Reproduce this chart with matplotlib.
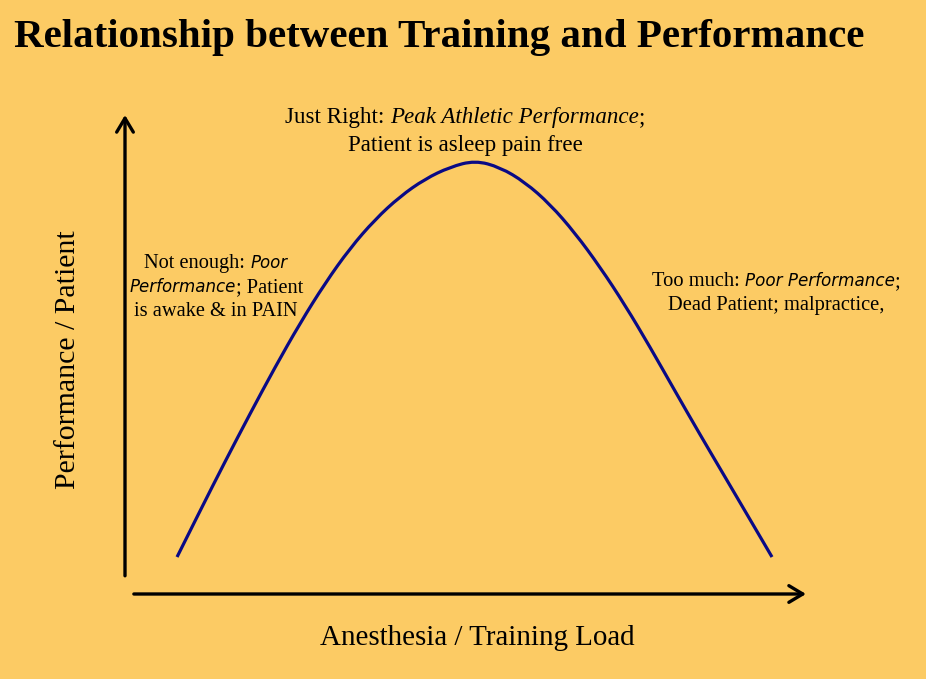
import matplotlib
matplotlib.use("Agg")
import matplotlib.pyplot as plt
import matplotlib.transforms as mtransforms
from matplotlib.path import Path
from matplotlib.patches import PathPatch

# ---- data ----
load = [0.764, 1.101, 1.468, 1.836, 2.203, 2.570, 2.937, 3.304, 3.671, 4.038,
        4.405, 4.772, 5.140, 5.507, 5.874, 6.241, 6.608, 6.975, 7.342, 7.709,
        8.076, 8.443, 8.811, 9.178, 9.501]
performance = [0.772, 1.733, 2.761, 3.763, 4.734, 5.652, 6.487, 7.218, 7.818, 8.299,
               8.664, 8.914, 9.050, 8.909, 8.596, 8.137, 7.537, 6.827, 6.033, 5.157,
               4.238, 3.330, 2.443, 1.555, 0.772]

title = "Relationship between Training and Performance"
xlabel = "Anesthesia / Training Load"
ylabel = "Performance / Patient"

top_note = [[("Just Right: ", "n"), ("Peak Athletic Performance", "i"), (";", "n")],
            [("Patient is asleep pain free", "n")]]
left_note = [[("Not enough: ", "n"), ("Poor", "s")],
             [("Performance", "s"), ("; Patient", "n")],
             [("is awake & in PAIN", "n")]]
right_note = [[("Too much: ", "n"), ("Poor Performance", "s"), (";", "n")],
              [("Dead Patient; malpractice,", "n")]]

W, H = 926, 679
BG = "#FCCB64"
CURVE = "#0A0A85"
SERIF = "Liberation Serif"

fig = plt.figure(figsize=(W / 100, H / 100), dpi=100, facecolor=BG)
PX = mtransforms.Affine2D().scale(1.0 / W, -1.0 / H).translate(0, 1) + fig.transFigure

# plot area: load 0..10 -> px 125..806 ; performance 0..10 -> px 594..115
ax = fig.add_axes([125 / W, (H - 594) / H, 681 / W, 479 / H])
ax.set_xlim(0, 10)
ax.set_ylim(0, 10)
ax.axis("off")
ax.patch.set_alpha(0)

# smooth curve through the read points (quadratic Bezier rendering)
pts = list(zip(load, performance))
verts = [pts[0]]
codes = [Path.MOVETO]
for i in range(1, len(pts) - 1):
    mid = ((pts[i][0] + pts[i + 1][0]) / 2, (pts[i][1] + pts[i + 1][1]) / 2)
    verts += [pts[i], mid]
    codes += [Path.CURVE3, Path.CURVE3]
verts.append(pts[-1])
codes.append(Path.LINETO)
ax.add_patch(PathPatch(Path(verts, codes), fill=False, edgecolor=CURVE, lw=2.3,
                       capstyle="butt", joinstyle="round", clip_on=False,
                       transform=ax.transData))

arrow_kw = dict(arrowstyle="->,head_length=0.5,head_width=0.3", color="black",
                lw=2.4, mutation_scale=20, shrinkA=0, shrinkB=0)
ax.annotate("", xy=(10.0, 0.0), xytext=(0.13, 0.0),
            arrowprops=arrow_kw, annotation_clip=False)
ax.annotate("", xy=(0.0, 10.0), xytext=(0.0, 0.38),
            arrowprops=arrow_kw, annotation_clip=False)

# ---- texts ----
fig.text(14, 47, title, transform=PX, fontsize=29.5, fontweight="bold",
         family=SERIF, ha="left", va="baseline", color="black")
fig.text(477, 645, xlabel, transform=PX, fontsize=20.9, family=SERIF,
         ha="center", va="baseline")
fig.text(75, 360, ylabel, transform=PX, fontsize=21.5, family=SERIF,
         rotation=90, ha="center", va="baseline", rotation_mode="anchor")

renderer = fig.canvas.get_renderer()


def style_kw(st, size):
    if st == "n":
        return dict(family=SERIF, fontsize=size)
    if st == "i":
        return dict(family=SERIF, fontsize=size, style="italic")
    return dict(family="DejaVu Sans", fontsize=size * 0.815, style="italic")


def rich_block(lines, cx, baselines, size):
    for parts, by in zip(lines, baselines):
        texts = []
        for s, st in parts:
            t = fig.text(0, by, s, transform=PX, ha="left", va="baseline",
                         color="black", **style_kw(st, size))
            texts.append(t)
        widths = [t.get_window_extent(renderer).width for t in texts]
        x = cx - sum(widths) / 2
        for t, w in zip(texts, widths):
            t.set_x(x)
            x += w


rich_block(top_note, 465, [123, 151], 16.6)
rich_block(left_note, 216, [268, 292, 316], 14.7)
rich_block(right_note, 776, [286, 310], 14.8)

fig.savefig("out.png", dpi=100, facecolor=BG)
